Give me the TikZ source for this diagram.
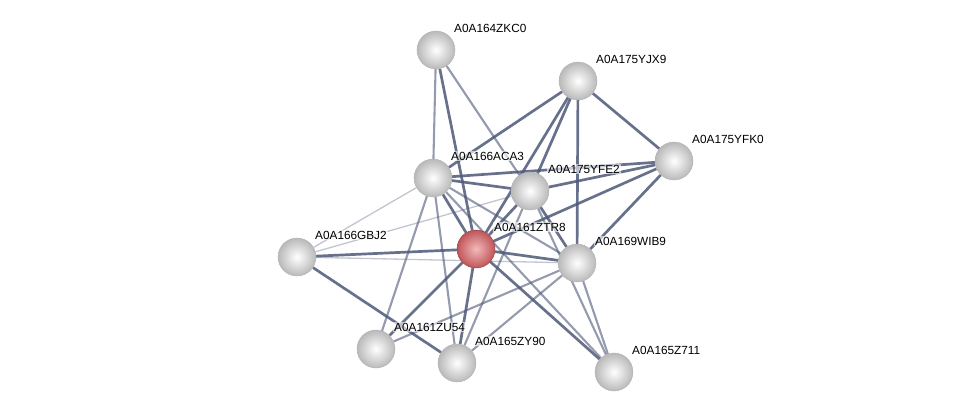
\documentclass[tikz,border=0pt]{standalone}
\usepackage{fontspec}
\setmainfont{Liberation Sans}
\usetikzlibrary{backgrounds}
\definecolor{edgeblue}{RGB}{78,88,120}
\definecolor{ballred}{RGB}{226,100,104}
\tikzset{
  prot/.style={circle, minimum size=38pt, inner sep=0pt, shading=radial, inner color=white, outer color=gray!55, draw=gray!60, line width=0.4pt},
  query/.style={prot, inner color=ballred!45!white, outer color=ballred!85!black, draw=ballred!60!black},
  lbl/.style={font=\fontsize{11.8}{13}\selectfont, anchor=west, inner sep=1pt, fill=white, fill opacity=0.6, text opacity=1},
  strong/.style={edgeblue, line width=2.7pt, opacity=0.85},
  medium/.style={edgeblue, line width=2.1pt, opacity=0.6},
  weak/.style={edgeblue, line width=1.3pt, opacity=0.35}
}

\begin{document}
\begin{tikzpicture}[x=1pt,y=-1pt]
  \useasboundingbox (0,0) rectangle (976,417);

  % proteines (positions en pixels)
  \node[prot] (zkc0) at (436,50) {};
  \node[prot] (yjx9) at (578,81) {};
  \node[prot] (yfk0) at (674,161) {};
  \node[prot] (aca3) at (433,178) {};
  \node[prot] (yfe2) at (530,191) {};
  \node[query] (ztr8) at (476,249) {};
  \node[prot] (wib9) at (577,263) {};
  \node[prot] (gbj2) at (297,257) {};
  \node[prot] (zu54) at (376,349) {};
  \node[prot] (zy90) at (457,363) {};
  \node[prot] (z711) at (614,372) {};

  % etiquettes
  \foreach \n/\t in {zkc0/A0A164ZKC0, yjx9/A0A175YJX9, yfk0/A0A175YFK0, aca3/A0A166ACA3,
                     yfe2/A0A175YFE2, ztr8/A0A161ZTR8, wib9/A0A169WIB9, gbj2/A0A166GBJ2,
                     zu54/A0A161ZU54, zy90/A0A165ZY90, z711/A0A165Z711}
    \node[lbl] (\n-lab) at ([shift={(17,-22)}]\n.center) {\t};

  % liens
  \begin{scope}[on background layer]
    \foreach \a/\b in {zkc0/ztr8, yjx9/aca3, yjx9/yfe2, yjx9/ztr8, yjx9/wib9, yjx9/yfk0,
                       yfk0/aca3, yfk0/yfe2, yfk0/ztr8, yfk0/wib9, aca3/yfe2, aca3/ztr8,
                       yfe2/ztr8, yfe2/wib9, ztr8/wib9, ztr8/gbj2, ztr8/zu54, ztr8/zy90,
                       ztr8/z711, gbj2/zy90}
      \draw[strong] (\a) -- (\b);
    \foreach \a/\b in {zkc0/aca3, zkc0/yfe2, aca3/zu54, aca3/zy90, aca3/wib9, yfe2/zy90,
                       aca3/z711, wib9/z711, yfe2/z711, wib9/zu54, wib9/zy90}
      \draw[medium] (\a) -- (\b);
    \foreach \a/\b in {aca3/gbj2, gbj2/yfe2, gbj2/wib9}
      \draw[weak] (\a) -- (\b);
  \end{scope}
\end{tikzpicture}
\end{document}
